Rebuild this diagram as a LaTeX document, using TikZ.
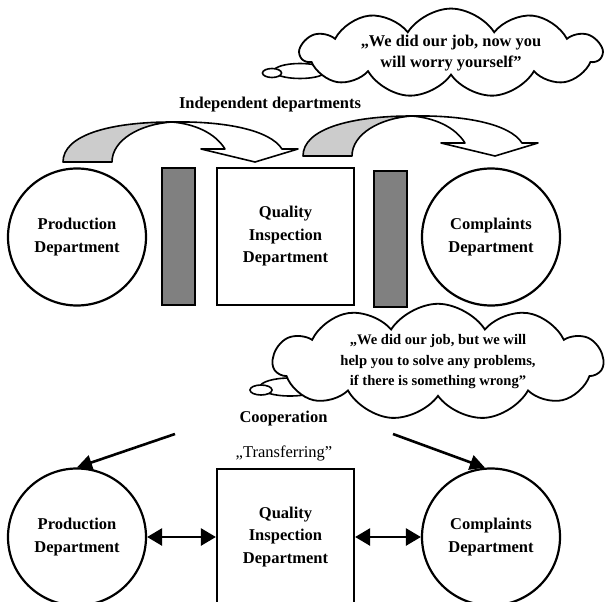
\documentclass[tikz,border=0pt]{standalone}
\usepackage{fontspec}
\setmainfont{Liberation Serif}
\usetikzlibrary{arrows.meta,shapes.geometric,shapes.symbols}

\tikzset{
    dept/.style={ellipse, draw, line width=2.2pt, minimum width=138pt, minimum height=137pt,
        inner sep=0pt, align=center, font=\fontsize{16.5}{23}\selectfont\bfseries},
    qibox/.style={rectangle, draw, line width=2.2pt, minimum width=137pt, minimum height=137pt,
        inner sep=0pt, align=center, font=\fontsize{16.5}{22.5}\selectfont\bfseries},
    wall/.style={rectangle, draw, line width=1.6pt, fill=gray, minimum width=33pt, minimum height=137pt},
    thought/.style={cloud, draw, fill=white, line width=1.8pt, cloud puffs=11, cloud puff arc=115,
        cloud ignores aspect, inner sep=0pt, align=center},
    bubble/.style={ellipse, draw, fill=white, line width=1.6pt, inner sep=0pt},
    heading/.style={font=\fontsize{16.5}{20}\selectfont\bfseries},
    curvebody/.style={draw, line width=1.6pt, line join=round},
    link/.style={line width=2.6pt, -{Triangle[length=15pt,width=15pt]}},
    twoway/.style={line width=2.6pt, {Triangle[length=15pt,width=17pt]}-{Triangle[length=15pt,width=17pt]}}
}

\begin{document}
\begin{tikzpicture}[x=1pt, y=-1pt]
    \clip (0,0) rectangle (606,602);

    \node[bubble, minimum width=52pt, minimum height=15pt] (bubA1) at (300,71) {};
    \node[bubble, minimum width=19pt, minimum height=9pt] (bubA2) at (272,73) {};
    \node[thought, minimum width=301pt, minimum height=78pt, font=\fontsize{16.4}{21.5}\selectfont\bfseries]
        (thinkA) at (451,53) {„We did our job, now you\\will worry yourself”};

    \node[heading] (indep) at (270,105) {Independent departments};

    \foreach \dx/\dy in {0/0, 240/-6} {
        \begin{scope}[shift={(\dx,\dy)}]
            \path[curvebody, fill=black!20] (63,162) .. controls (63,135) and (110,122) .. (172,122)
                .. controls (140,124) and (112,140) .. (112,162) -- cycle;
            \path[curvebody, fill=white] (172,122) .. controls (225,121) and (270,130) .. (282,149)
                -- (298,149) -- (255,162) -- (201,149) -- (225,149)
                .. controls (215,133) and (195,124) .. (172,122) -- cycle;
        \end{scope}
    }

    \node[dept] (prodA) at (77,237) {Production\\Department};
    \node[wall] (wallA) at (178.5,236.5) {};
    \node[qibox] (qualA) at (285.5,236.5) {Quality\\Inspection\\Department};
    \node[wall, minimum height=136pt] (wallB) at (390.5,239) {};
    \node[dept] (cmplA) at (491,237) {Complaints\\Department};

    \node[bubble, minimum width=60pt, minimum height=18pt] (bubB1) at (290,387) {};
    \node[bubble, minimum width=22pt, minimum height=10pt] (bubB2) at (261,390) {};
    \node[thought, minimum width=330pt, minimum height=96pt, font=\fontsize{14.6}{20.5}\selectfont\bfseries]
        (thinkB) at (438,362) {„We did our job, but we will\\help you to solve any problems,\\if there is something wrong”};

    \node[heading] (coop) at (283.5,419) {Cooperation};
    \node[font=\fontsize{16.5}{20}\selectfont] (transf) at (284,453) {„Transferring”};
    \coordinate (coopL) at (175,434);
    \coordinate (coopR) at (393,434);

    \node[dept] (prodB) at (77,537) {Production\\Department};
    \node[qibox, minimum height=136pt] (qualB) at (285.5,537) {Quality\\Inspection\\Department};
    \node[dept] (cmplB) at (491,537) {Complaints\\Department};

    \draw[link] (coopL) -- (prodB.north);
    \draw[link] (coopR) -- (cmplB.95);
    \draw[twoway] (prodB.east) -- (qualB.west);
    \draw[twoway] (qualB.east) -- (cmplB.west);
\end{tikzpicture}
\end{document}
